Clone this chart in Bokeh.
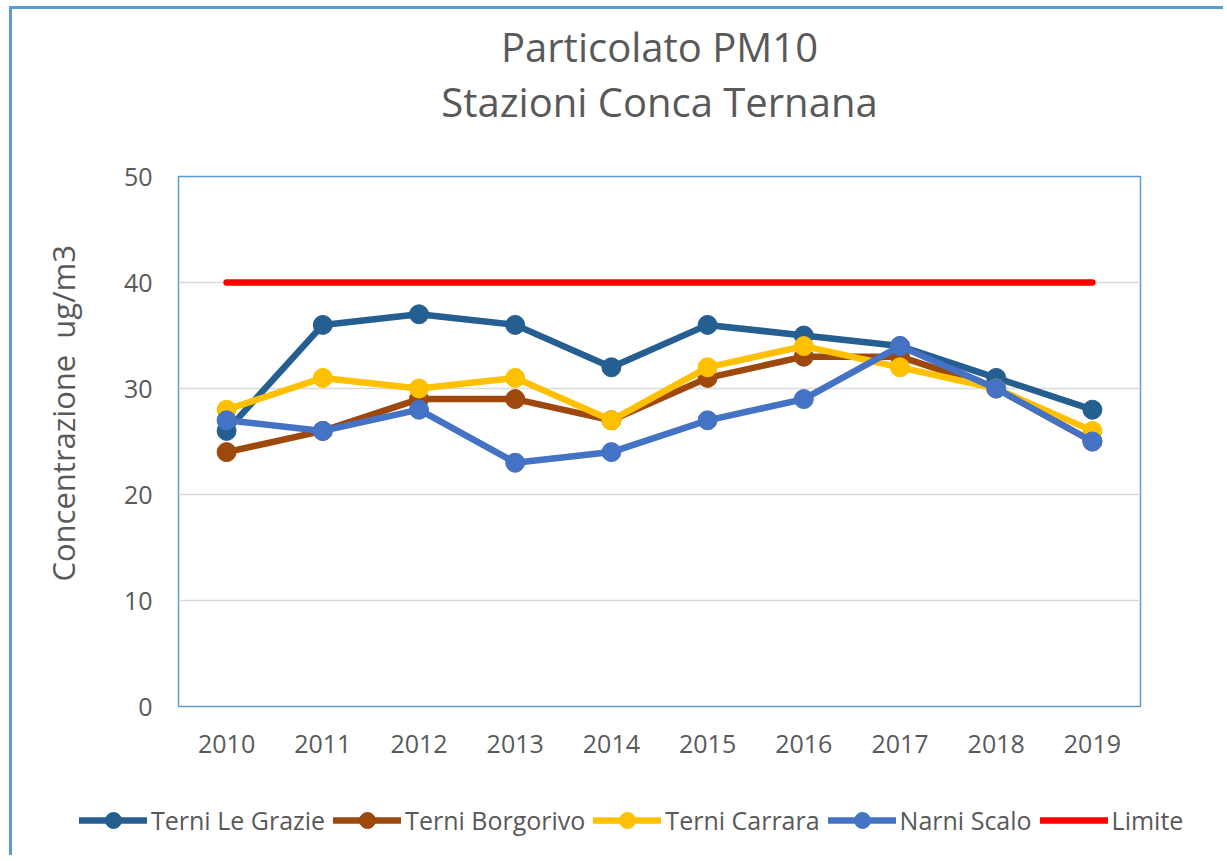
from bokeh.plotting import figure
from bokeh.layouts import column
from bokeh.models import (FactorRange, Range1d, Title, Legend, LegendItem, FixedTicker, Div)
from bokeh.embed import file_html
from bokeh.resources import INLINE

years = ["2010", "2011", "2012", "2013", "2014", "2015", "2016", "2017", "2018", "2019"]
terni_le_grazie = [26, 36, 37, 36, 32, 36, 35, 34, 31, 28]
terni_borgorivo = [24, 26, 29, 29, 27, 31, 33, 33, 30, 25]
terni_carrara = [28, 31, 30, 31, 27, 32, 34, 32, 30, 26]
narni_scalo = [27, 26, 28, 23, 24, 27, 29, 34, 30, 25]
limite = [40, 40, 40, 40, 40, 40, 40, 40, 40, 40]

series_names = ["Terni Le Grazie", "Terni Borgorivo", "Terni Carrara", "Narni Scalo"]
series_vals = [terni_le_grazie, terni_borgorivo, terni_carrara, narni_scalo]
series_colors = ["#255E91", "#9E480E", "#FFC000", "#4472C4"]
limit_name = "Limite"
limit_color = "#FF0000"

FONT = "Open Sans"
GRAY = "#595959"
LW = 6.5

p = figure(x_range=FactorRange(*years), y_range=Range1d(0, 50),
           width=1211, height=776, output_backend="svg", toolbar_location=None,
           min_border_left=166, min_border_right=83, min_border_top=167,
           min_border_bottom=79)

p.outline_line_color = "#5B9BD5"
p.outline_line_width = 1.5
p.xgrid.grid_line_color = None
p.ygrid.grid_line_color = "#D9D9D9"
p.ygrid.grid_line_width = 1.5

p.yaxis.ticker = FixedTicker(ticks=[0, 10, 20, 30, 40, 50])
for ax in (p.xaxis[0], p.yaxis[0]):
    ax.axis_line_color = None
    ax.major_tick_line_color = None
    ax.minor_tick_line_color = None
    ax.major_tick_in = 0
    ax.major_tick_out = 0
    ax.minor_tick_in = 0
    ax.minor_tick_out = 0
    ax.major_label_text_font = FONT
    ax.major_label_text_font_size = "25px"
    ax.major_label_text_color = GRAY
p.yaxis.major_label_standoff = 26
p.xaxis.major_label_standoff = 28

p.yaxis.axis_label = "\u00a0" * 7 + "Concentrazione\u00a0 ug/m3"
p.yaxis.axis_label_text_font = FONT
p.yaxis.axis_label_text_font_size = "31px"
p.yaxis.axis_label_text_font_style = "normal"
p.yaxis.axis_label_text_color = GRAY
p.yaxis.axis_label_standoff = 37

for name, vals, col in zip(series_names, series_vals, series_colors):
    p.line(years, vals, line_color=col, line_width=LW, line_join="round", line_cap="round")
    p.scatter(years, vals, size=19, fill_color=col, line_color=col)
p.line(years, limite, line_color=limit_color, line_width=LW, line_cap="round")

t2 = Title(text="Stazioni Conca Ternana", align="center", text_font=FONT,
           text_font_size="40px", text_color=GRAY, text_font_style="normal", standoff=96)
t1 = Title(text="Particolato PM10", align="center", text_font=FONT,
           text_font_size="40px", text_color=GRAY, text_font_style="normal", standoff=-101)
p.add_layout(t2, "above")
p.add_layout(t1, "above")

if "frame_align" in p.properties():
    # legend row as its own figure, with hidden proxy renderers
    lf = figure(x_range=FactorRange(*years), y_range=Range1d(0, 50), width=1211, height=70,
                output_backend="svg", toolbar_location=None, min_border=0,
                x_axis_type=None, y_axis_type=None, outline_line_color=None)
    lf.grid.visible = False
    p.frame_align = False
    lf.frame_align = False
    items = []
    for name, vals, col in zip(series_names, series_vals, series_colors):
        ln = lf.line(years, vals, line_color=col, line_width=LW, line_cap="round", visible=False)
        sc = lf.scatter(years, vals, fill_color=col, line_color=col, visible=False)
        items.append(LegendItem(label=name, renderers=[ln, sc]))
    lr = lf.line(years, limite, line_color=limit_color, line_width=LW, line_cap="round", visible=False)
    items.append(LegendItem(label=limit_name, renderers=[lr]))
    legend = Legend(items=items, orientation="horizontal", location=(67, 15),
                    padding=0, margin=0, spacing=8, glyph_width=68, glyph_height=40,
                    label_height=40, label_standoff=4, border_line_color=None,
                    background_fill_alpha=0, inactive_fill_alpha=0, label_text_font=FONT,
                    label_text_font_size="25px", label_text_color=GRAY)
    lf.add_layout(legend, "center")
    bottom = lf
else:
    parts = []
    for name, col in list(zip(series_names, series_colors)) + [(limit_name, limit_color)]:
        dot = "" if name == limit_name else (
            f'<span style="position:absolute;left:27px;top:-5px;width:16px;height:16px;'
            f'border-radius:50%;background:{col}"></span>')
        parts.append(
            f'<span style="position:relative;display:inline-block;width:68px;height:6px;'
            f'background:{col};border-radius:3px;margin-right:4px">{dot}</span>'
            f'<span style="margin-right:8px">{name}</span>')
    html = (f'<div style="display:flex;align-items:center;height:70px;padding-left:67px;'
            f'font-family:\'Open Sans\';font-size:25px;color:{GRAY};white-space:nowrap">'
            + "".join(parts) + "</div>")
    bottom = Div(text=html, width=1211, height=70)

layout = column(p, bottom, spacing=0)
layout.styles = {"border-top": "3px solid #5B9BD5", "border-left": "3px solid #5B9BD5",
                 "margin-left": "9px", "margin-top": "6px"}

open("out.html", "w").write(file_html(layout, INLINE))
